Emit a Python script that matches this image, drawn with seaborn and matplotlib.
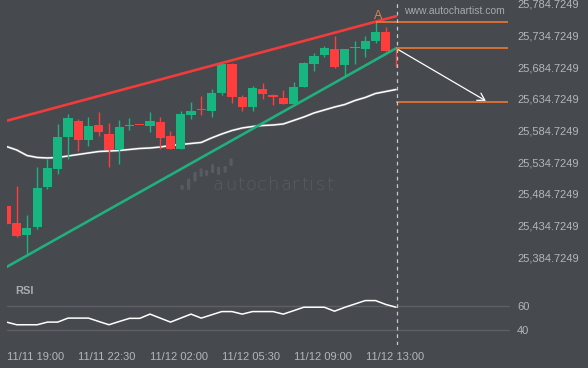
import numpy as np
import pandas as pd
import matplotlib
matplotlib.use("Agg")
import matplotlib.pyplot as plt
from matplotlib.patches import FancyArrowPatch, FancyBboxPatch
import seaborn as sns

# ---------------- data ----------------
opens = [25465.3, 25438.5, 25419.5, 25432.6, 25495.8, 25524.3, 25574.8, 25599.6, 25570.1, 25593.3,
         25579.1, 25555.4, 25591.0, 25593.0, 25591.7, 25598.0, 25575.9, 25555.9, 25609.1, 25616.7,
         25615.9, 25643.4, 25689.7, 25637.5, 25621.3, 25650.2, 25640.7, 25636.4, 25626.5, 25652.9,
         25690.2, 25703.9, 25713.4, 25688.1, 25714.3, 25713.9, 25726.5, 25740.2, 25714.7]
highs = [25466.0, 25497.7, 25450.6, 25527.4, 25539.1, 25594.4, 25610.2, 25602.8, 25606.4, 25613.8,
         25596.0, 25601.2, 25603.9, 25593.0, 25613.8, 25606.4, 25583.8, 25615.4, 25629.6, 25639.1,
         25649.7, 25690.8, 25690.8, 25640.7, 25654.9, 25659.2, 25642.3, 25648.1, 25660.8, 25692.4,
         25706.6, 25718.1, 25733.9, 25713.4, 25726.0, 25734.4, 25756.0, 25748.6, 25714.7]
lows = [25436.0, 25415.6, 25386.8, 25428.5, 25491.7, 25515.9, 25540.1, 25552.7, 25560.6, 25576.4,
        25526.5, 25532.2, 25585.4, 25592.6, 25582.7, 25555.4, 25555.4, 25555.4, 25603.3, 25608.6,
        25606.4, 25640.7, 25627.6, 25615.9, 25615.9, 25634.9, 25624.9, 25627.0, 25626.5, 25652.9,
        25679.1, 25700.3, 25683.8, 25669.6, 25689.7, 25700.3, 25723.3, 25710.7, 25685.4]
closes = [25436.9, 25417.9, 25431.0, 25494.2, 25525.4, 25574.3, 25604.8, 25570.1, 25591.7, 25582.2,
          25554.3, 25590.1, 25591.4, 25592.6, 25599.6, 25573.2, 25555.9, 25610.7, 25615.4, 25616.3,
          25644.3, 25689.7, 25638.0, 25622.2, 25651.8, 25642.8, 25638.0, 25627.0, 25653.8, 25691.3,
          25702.8, 25715.4, 25685.4, 25713.4, 25714.7, 25726.0, 25740.2, 25710.7, 25714.3]
sma = [25559.3, 25553.8, 25545.1, 25542.0, 25541.2, 25542.0, 25544.3, 25546.7, 25549.1, 25551.4,
       25552.2, 25553.0, 25554.6, 25556.2, 25557.0, 25558.5, 25560.9, 25562.5, 25564.1, 25565.7,
       25572.8, 25579.1, 25584.6, 25588.6, 25590.9, 25592.5, 25593.3, 25594.9, 25600.4, 25605.9,
       25612.3, 25617.0, 25621.7, 25625.7, 25632.0, 25636.8, 25643.1, 25646.2, 25649.4]
rsi = [46.6, 44.4, 44.4, 44.4, 46.6, 46.6, 49.9, 49.9, 49.9, 47.1,
       44.4, 47.1, 49.7, 49.7, 53.2, 49.9, 46.6, 49.9, 53.2, 49.9,
       52.6, 55.3, 55.3, 53.2, 55.3, 55.3, 55.3, 53.2, 56.0, 58.9,
       58.9, 58.9, 55.6, 58.8, 61.6, 64.4, 64.4, 61.2, 58.9]

resistance_idx = [0, 38]
resistance_val = [25599.9, 25765.2]
support_idx = [0, 38]
support_val = [25368.9, 25714.5]

level_A = 25756.0
level_entry = 25714.5
level_target = 25629.2
arrow_from = (38, 25714.5)
arrow_to = (47, 25629.2)

price_ticks = [25384.7249, 25434.7249, 25484.7249, 25534.7249, 25584.7249,
               25634.7249, 25684.7249, 25734.7249, 25784.7249]
time_labels = ["11/11 19:00", "11/11 22:30", "11/12 02:00", "11/12 05:30", "11/12 09:00", "11/12 13:00"]
time_label_pos = [2.8, 9.8, 16.8, 23.85, 30.9, 37.9]
rsi_ticks = [40, 60]

# ---------------- style ----------------
BG = "#46494e"
GREEN = "#17b580"
RED = "#ff3d3d"
TXT = "#b3b6ba"
ORANGE = "#ff7a2e"
WM = "#585b60"

sns.set_theme(style="dark", rc={"axes.facecolor": BG, "figure.facecolor": BG})
plt.rcParams["font.family"] = ["Liberation Sans", "DejaVu Sans"]

W, H = 588, 368
fig = plt.figure(figsize=(W / 100, H / 100), dpi=100)
ax = fig.add_axes([7 / W, 1 - 285 / H, 503 / W, 285 / H])
rax = fig.add_axes([7 / W, 1 - 345 / H, 503 / W, 60 / H])

idx = np.arange(len(opens))
df = pd.DataFrame({"i": idx, "o": opens, "h": highs, "l": lows, "c": closes, "sma": sma, "rsi": rsi})

# watermark logo (decoration, figure pixel geometry)
for (bx, y0, y1) in [(180.5, 185, 190), (187, 178.3, 190), (193.5, 171.7, 181.7), (199.5, 168.3, 176.7),
                     (205, 170, 176), (211, 164, 173.3), (217, 166.7, 175), (223.5, 166, 172.7),
                     (229.5, 158.3, 166)]:
    fig.add_artist(FancyBboxPatch((bx / W, 1 - y1 / H), 3.2 / W, (y1 - y0) / H,
                                  boxstyle="round,pad=0,rounding_size=0.003",
                                  transform=fig.transFigure, color=WM, lw=0, zorder=0.5))
x0 = 213
for ch in "autochartist":
    fig.text(x0 / W, 1 - 189.5 / H, ch, fontsize=13, color=WM,
             family=["DejaVu Sans"], fontweight="light", va="baseline", ha="left", zorder=0.5)
    x0 += {"a": 11.8, "u": 12.0, "t": 8.6, "o": 11.8, "c": 11.0, "h": 12.0, "r": 8.8, "i": 6.4, "s": 10.6}[ch]
fig.text(404 / W, 1 - 11 / H, "www.autochartist.com", fontsize=7.5, color="#a6a9ad",
         va="center", ha="left")

# SMA line
sns.lineplot(data=df, x="i", y="sma", ax=ax, color="#9a9a9a", lw=2.0, zorder=2, alpha=0.35)
sns.lineplot(data=df, x="i", y="sma", ax=ax, color="white", lw=1.1, zorder=2.1)

# candles
for _, r in df.iterrows():
    col = GREEN if r.c >= r.o else RED
    ax.vlines(r.i, r.l, r.h, color=col, lw=1.0, zorder=3)
    if r.i < 38:
        bot = min(r.o, r.c)
        hgt = max(abs(r.c - r.o), 1.8)
        ax.bar(r.i, hgt, bottom=bot, width=0.88, color=col, lw=0, zorder=3)

# trend lines
sns.lineplot(x=resistance_idx, y=resistance_val, ax=ax, color="#f23b3b", lw=1.9, zorder=4)
sns.lineplot(x=support_idx, y=support_val, ax=ax, color="#20b07d", lw=1.9, zorder=4)

# levels
ax.hlines(level_A, 36, 48.9, color=ORANGE, lw=1.1, zorder=5)
ax.hlines(level_entry, 38, 48.9, color=ORANGE, lw=1.1, zorder=5)
ax.hlines(level_target, 38, 48.9, color=ORANGE, lw=1.1, zorder=5)
ax.text(36.25, 25766.0, "A", color="#e0824c", fontsize=9, ha="center", va="center", zorder=6)
ax.add_patch(FancyArrowPatch(arrow_from, arrow_to, arrowstyle="->,head_length=5,head_width=3",
                             color="white", lw=0.9, zorder=6, mutation_scale=1))

ax.axvline(38.05, color="#c9c9c9", lw=0.9, ls=(0, (3, 3)), zorder=6)
rax.axvline(38.05, color="#c9c9c9", lw=0.9, ls=(0, (3, 3)), zorder=6)

ax.set_xlim(0.05, 49.12)
ax.set_ylim(25340.5, 25790.8)
ax.yaxis.tick_right()
ax.set_yticks(price_ticks)
ax.set_yticklabels([f"{v:,.4f}" for v in price_ticks])
ax.set_xticks([])
ax.tick_params(axis="y", length=0, pad=5, labelsize=8, labelcolor=TXT)
ax.set_xlabel("")
ax.set_ylabel("")
ax.grid(False)
for s in ax.spines.values():
    s.set_visible(False)

# RSI panel
for t in rsi_ticks:
    rax.axhline(t, color="#5c5f64", lw=1.0, zorder=1)
sns.lineplot(data=df, x="i", y="rsi", ax=rax, color="white", lw=1.1, zorder=3)
rax.set_xlim(0.05, 49.12)
rax.set_ylim(27.65, 77.28)
rax.yaxis.tick_right()
rax.set_yticks(rsi_ticks)
rax.set_yticklabels([str(t) for t in rsi_ticks])
rax.set_xticks(time_label_pos)
rax.set_xticklabels(time_labels)
rax.tick_params(axis="both", length=0, pad=5, labelsize=8, labelcolor=TXT)
rax.set_xlabel("")
rax.set_ylabel("")
rax.grid(False)
for s in rax.spines.values():
    s.set_visible(False)
rax.text(8 / 503, 0.9, "RSI", transform=rax.transAxes, color="#a9acb0", fontsize=8,
         fontweight="bold", ha="left", va="center")

fig.savefig("out.png", dpi=100, facecolor=BG)
